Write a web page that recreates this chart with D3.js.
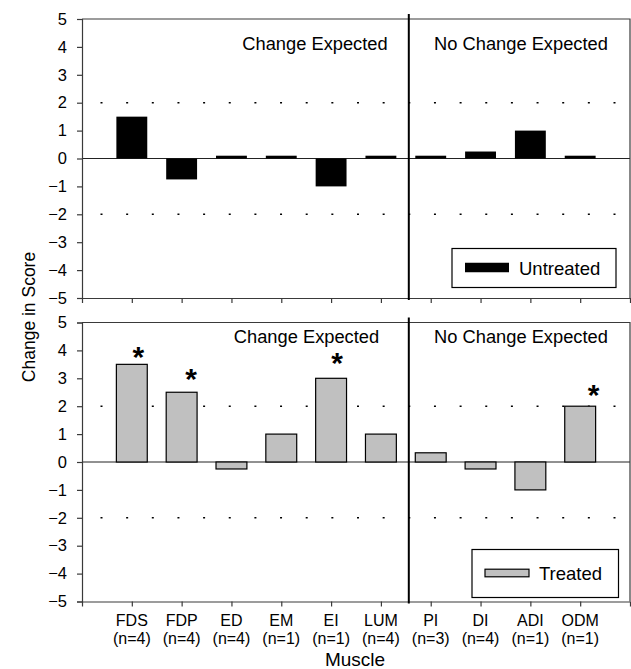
<!DOCTYPE html>
<html>
<head>
<meta charset="utf-8">
<script src="https://cdn.jsdelivr.net/npm/d3@7"></script>
<style>
  body { margin: 0; background: #fff; }
  svg { display: block; font-family: "Liberation Sans", Arial, sans-serif; }
</style>
</head>
<body>
<svg id="chart" width="631" height="669"></svg>
<script>
// muscles and group sizes
const muscles = ['FDS', 'FDP', 'ED', 'EM', 'EI', 'LUM', 'PI', 'DI', 'ADI', 'ODM'];
const groupN = [4, 4, 4, 1, 1, 4, 3, 4, 1, 1];

// change in score per muscle
const untreated = [1.5, -0.75, 0.1, 0.1, -1, 0.1, 0.1, 0.25, 1, 0.1];
const treated = [3.5, 2.5, -0.25, 1, 3, 1, 0.33, -0.25, -1, 2];

// significant changes (treated): asterisk height in score units, small x nudge in band units
const sigMuscles = ['FDS', 'FDP', 'EI', 'ODM'];
const sigLevel = [3.87, 3.1, 3.64, 2.52];
const sigNudge = [0.13, 0.19, 0.12, 0.27];

const yTicks = [-5, -4, -3, -2, -1, 0, 1, 2, 3, 4, 5];
const gridValues = [2, -2];
const groupSplit = 6.56; // between LUM and PI

const svg = d3.select('#chart');
const axisColor = '#3a3a3a';

const x = d3.scaleLinear().domain([0, muscles.length + 1]).range([82, 630]);
const step = x(1) - x(0);
const barW = step * 0.62;

const panels = [
    { top: 19, values: untreated, fill: '#000', stroke: 'none', label: 'Untreated',
      titleDy: 31, changeX: 315, noChangeX: 521,
      legend: { x: 452, y: 248.5, w: 164, h: 39, sw: 44, sh: 9.5 } },
    { top: 322.5, values: treated, fill: '#c0c0c0', stroke: '#000', label: 'Treated',
      titleDy: 20.5, changeX: 306.5, noChangeX: 521,
      legend: { x: 472, y: 549.5, w: 146.5, h: 48, sw: 44, sh: 7.6 } }
];

panels.forEach((p, pi) => {
    const y = d3.scaleLinear().domain([-5, 5]).range([p.top + 279, p.top]);
    const g = svg.append('g');

    // dotted reference lines
    g.selectAll('.grid')
        .data(gridValues)
        .join('line')
        .attr('x1', x(0) + 18.5)
        .attr('x2', x(muscles.length + 1))
        .attr('y1', d => y(d))
        .attr('y2', d => y(d))
        .attr('stroke', '#000')
        .attr('stroke-width', 1.6)
        .attr('stroke-dasharray', '2,23.65');

    // zero line
    g.append('line')
        .attr('x1', x(0)).attr('x2', x(muscles.length + 1))
        .attr('y1', y(0)).attr('y2', y(0))
        .attr('stroke', '#222').attr('stroke-width', 1);

    // bars
    g.selectAll('.bar')
        .data(p.values)
        .join('rect')
        .attr('x', (v, i) => x(i + 1) - barW / 2)
        .attr('y', v => y(Math.max(0, v)))
        .attr('width', barW)
        .attr('height', v => Math.abs(y(v) - y(0)))
        .attr('fill', p.fill)
        .attr('stroke', p.stroke)
        .attr('stroke-width', 1.2);

    // frame: top and right edges
    g.append('path')
        .attr('d', `M${x(0)},${y(5)}H${x(muscles.length + 1)}V${y(-5)}`)
        .attr('fill', 'none')
        .attr('stroke', axisColor)
        .attr('stroke-width', 1.2);

    // axes
    const yAxis = d3.axisLeft(y).tickValues(yTicks).tickSize(5).tickPadding(10).tickFormat(d3.format('d'));
    const ya = g.append('g').attr('transform', `translate(${x(0)},0)`).call(yAxis);
    ya.attr('font-size', 16.5).attr('font-family', '"Liberation Sans", Arial, sans-serif');
    ya.selectAll('text').attr('fill', '#000');

    const xAxis = d3.axisBottom(x).tickValues(d3.range(1, muscles.length + 1)).tickSize(5).tickFormat('');
    const xa = g.append('g').attr('transform', `translate(0,${y(-5)})`).call(xAxis);
    [ya, xa].forEach(a => {
        a.select('.domain').attr('stroke', axisColor).attr('stroke-width', 1.2);
        a.selectAll('.tick line').attr('stroke', axisColor).attr('stroke-width', 1.2);
    });

    // divider between groups
    g.append('line')
        .attr('x1', x(groupSplit)).attr('x2', x(groupSplit))
        .attr('y1', y(5) - 5).attr('y2', y(-5) + 2)
        .attr('stroke', '#000').attr('stroke-width', 2);

    // group titles
    g.append('text').attr('x', p.changeX).attr('y', y(5) + p.titleDy)
        .attr('text-anchor', 'middle').attr('font-size', 18.3).text('Change Expected');
    g.append('text').attr('x', p.noChangeX).attr('y', y(5) + p.titleDy)
        .attr('text-anchor', 'middle').attr('font-size', 18.3).text('No Change Expected');

    // legend
    const L = p.legend;
    const lg = g.append('g').attr('transform', `translate(${L.x},${L.y})`);
    lg.append('rect').attr('width', L.w).attr('height', L.h)
        .attr('fill', '#fff').attr('stroke', '#000').attr('stroke-width', 1.2);
    lg.append('rect').attr('x', 13).attr('y', L.h / 2 - L.sh / 2 - 0.5)
        .attr('width', L.sw).attr('height', L.sh)
        .attr('fill', p.fill).attr('stroke', p.stroke).attr('stroke-width', 1.2);
    lg.append('text').attr('x', L.sw + 23).attr('y', L.h / 2 + 6.5)
        .attr('font-size', 18.5).text(p.label);

    // significance asterisks on treated panel
    if (pi === 1) {
        g.selectAll('.sig')
            .data(sigMuscles)
            .join('text')
            .attr('x', (m, i) => x(muscles.indexOf(m) + 1 + sigNudge[i]))
            .attr('y', (m, i) => y(sigLevel[i]) + 13)
            .attr('text-anchor', 'middle')
            .attr('font-size', 30)
            .attr('font-weight', 'bold')
            .text('*');
    }
});

// muscle labels under the bottom panel: name and group size on two lines
const lab = svg.append('g')
    .selectAll('.lab')
    .data(muscles)
    .join('text')
    .attr('text-anchor', 'middle')
    .attr('font-size', 16);
lab.append('tspan')
    .attr('x', (m, i) => x(i + 1))
    .attr('y', 625.5)
    .text(m => m);
lab.append('tspan')
    .attr('x', (m, i) => x(i + 1))
    .attr('y', 643.5)
    .text((m, i) => `(n=${groupN[i]})`);

// axis titles
svg.append('text')
    .attr('x', 355).attr('y', 665.5)
    .attr('text-anchor', 'middle')
    .attr('font-size', 19)
    .text('Muscle');
svg.append('text')
    .attr('transform', 'translate(35,317) rotate(-90)')
    .attr('text-anchor', 'middle')
    .attr('font-size', 17.5)
    .text('Change in Score');
</script>
</body>
</html>
